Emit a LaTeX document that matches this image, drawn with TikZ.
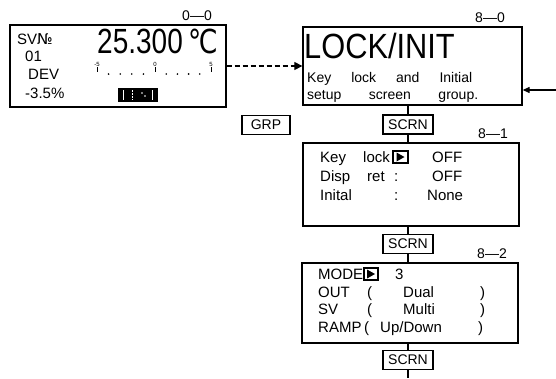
\documentclass[tikz,border=0pt]{standalone}
\usepackage{fontspec}
\setmainfont{Liberation Sans}
\newfontfamily\lcd[FakeStretch=0.8]{Liberation Sans}
\newfontfamily\lcdb[FakeStretch=0.88]{Liberation Sans}
\newfontfamily\djv[FakeStretch=0.8]{DejaVu Sans}
\newfontfamily\djvn{DejaVu Sans}
\usetikzlibrary{arrows.meta,calc}
\begin{document}
\begin{tikzpicture}[x=1pt,y=-1pt,
  frame/.style={draw, line width=1.3pt, inner sep=0pt},
  keybox/.style={draw, line width=1.2pt, inner sep=0pt, minimum width=50pt, minimum height=19pt, font=\fontsize{14}{14}\selectfont},
  txt/.style={anchor=base west, inner sep=0pt, font=\fontsize{15}{15}\selectfont},
  desc/.style={anchor=base west, inner sep=0pt, font=\fontsize{14}{14}\selectfont},
  lbl/.style={anchor=base, inner sep=0pt, font=\fontsize{14}{14}\selectfont},
  conn/.style={line width=1.2pt},
  cursor/.style={draw, line width=1.3pt, inner sep=0pt, minimum height=12pt},
  scl/.style={anchor=base, inner sep=0pt, font=\fontsize{6}{6}\selectfont},
]
\useasboundingbox (0,0) rectangle (556,378);

% frames
\node[frame, minimum width=216pt, minimum height=82pt] (b00) at (118,66) {};
\node[frame, minimum width=219pt, minimum height=78pt] (b80) at (412.5,66) {};
\node[frame, minimum width=216pt, minimum height=83pt] (b81) at (411,184.5) {};
\node[frame, minimum width=216pt, minimum height=80pt] (b82) at (410,303) {};

% keys
\node[keybox, minimum width=48pt] (grp) at (266,125) {GRP};
\node[keybox] (s1) at (408,124.5) {SCRN};
\node[keybox] (s2) at (408,244) {SCRN};
\node[keybox] (s3) at (408,360) {SCRN};

% screen numbers
\node[lbl] (l00) at (197,20) {0—0};
\node[lbl] (l80) at (490,22) {8—0};
\node[lbl] (l81) at (493,138) {8—1};
\node[lbl] (l82) at (492,258) {8—2};

% screen 0-0
\node[txt] (sv) at (17,44) {SV{\djvn №}};
\node[txt] (n01) at (25,61) {01};
\node[txt] (dev) at (28,79) {DEV};
\node[txt] (dv) at (25,98) {-3.5\%};
\node[anchor=base west, inner sep=0pt, font=\lcd\fontsize{35}{35}\selectfont] (temp) at (97,53) {25.300};
\node[anchor=base west, inner sep=0pt, font=\djv\fontsize{33}{33}\selectfont] (degc) at (188,53) {℃};
\node[scl] (sa) at (97,66) {-5};
\node[scl] (sb) at (155,66) {0};
\node[scl] (sc) at (211,66) {5};
\foreach \x in {97,155,211} \draw[line width=0.9pt] (\x,67) -- (\x,72);
\foreach \x in {108.6,120.2,131.8,143.4,166.2,177.4,188.6,199.8} \fill (\x,74) circle (0.9);
\node[fill=black, inner sep=0pt, minimum width=40pt, minimum height=14pt] (bar) at (138,95) {};
\draw[white, line width=1pt] (123,90) -- (123,100);
\draw[white, line width=1pt, dash pattern=on 1.5pt off 1.5pt] (132,90) -- (132,100);
\fill[white] (142,93) circle (0.8) (145,96) circle (0.8);
\draw[white, line width=1pt] (152,90) -- (152,100);

% screen 8-0
\node[anchor=base west, inner sep=0pt, font=\lcdb\fontsize{35}{35}\selectfont] (lock) at (304,58) {LOCK/INIT};
\node[desc] (d1) at (307,82) {\makebox[165pt][s]{Key lock and Initial}};
\node[desc] (d2) at (307,99) {\makebox[171pt][s]{setup screen group.}};

% screen 8-1
\node[txt] (k1) at (320,162) {Key};
\node[txt] (k2) at (363,162) {lock};
\node[cursor, minimum width=15pt] (c1) at (400.5,157) {};
\fill ($(c1.center)+(-4,-4.5)$) -- ++(8,4.5) -- ++(-8,4.5) -- cycle;
\node[txt] (k3) at (432,162) {OFF};
\node[txt] (p1) at (320,181) {Disp};
\node[txt] (p2) at (367,181) {ret};
\node[txt] (p3) at (394,181) {:};
\node[txt] (p4) at (432,181) {OFF};
\node[txt] (q1) at (320,200) {Inital};
\node[txt] (q2) at (394,200) {:};
\node[txt] (q3) at (427,200) {None};

% screen 8-2
\node[txt] (m1) at (318,279) {MODE};
\node[cursor, minimum width=14pt] (c2) at (371,274) {};
\fill ($(c2.center)+(-4,-4.5)$) -- ++(8,4.5) -- ++(-8,4.5) -- cycle;
\node[txt] (m2) at (395,279) {3};
\node[txt] (o1) at (318,297) {OUT};
\node[txt] (o2) at (367,297) {(};
\node[txt] (o3) at (403,297) {Dual};
\node[txt] (o4) at (480,297) {)};
\node[txt] (v1) at (318,314) {SV};
\node[txt] (v2) at (367,314) {(};
\node[txt] (v3) at (403,314) {Multi};
\node[txt] (v4) at (480,314) {)};
\node[txt] (r1) at (318,332) {RAMP};
\node[txt] (r2) at (364,332) {(};
\node[txt] (r3) at (380,332) {Up/Down};
\node[txt] (r4) at (478,332) {)};

% connectors
\draw[conn, dash pattern=on 5pt off 3pt, -{Triangle[length=8pt,width=8pt]}] (b00.east) -- (b80.west);
\coordinate (rin) at (556,90);
\draw[conn, -{Triangle[length=7pt,width=6pt]}] (rin) -- (rin -| b80.east);
\draw[conn] (s1.north) -- (s1.north |- b80.south);
\draw[conn] (s1.south) -- (s1.south |- b81.north);
\draw[conn] (s2.north) -- (s2.north |- b81.south);
\draw[conn] (s2.south) -- (s2.south |- b82.north);
\draw[conn] (s3.north) -- (s3.north |- b82.south);
\coordinate (bot) at (408,378);
\draw[conn] (s3.south) -- (bot);
\end{tikzpicture}
\end{document}
